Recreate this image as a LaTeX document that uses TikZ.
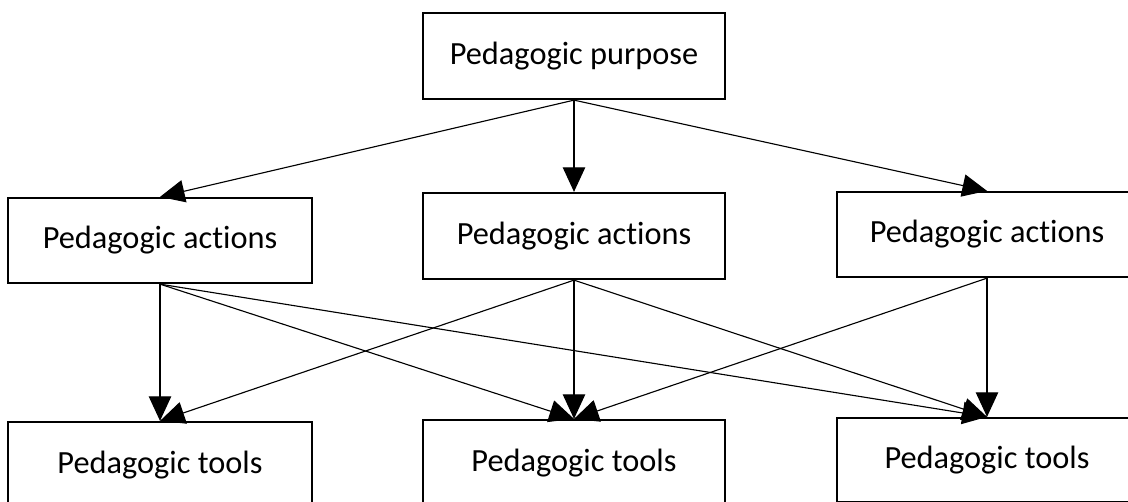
\documentclass[tikz,border=0pt]{standalone}
\usepackage{fontspec}
\setmainfont{Carlito}[Ligatures={NoCommon}]
\usetikzlibrary{arrows.meta,positioning,shapes}

\tikzset{
  block/.style={draw, line width=1.6pt, minimum width=302\pxu, minimum height=86\pxu,
    inner sep=0pt, font=\fontsize{23}{28}\selectfont},
  arr/.style={line width=0.8pt, -{Triangle[length=17.5pt, width=16pt]}}
}
\newlength{\pxu}
\setlength{\pxu}{0.025cm}

\begin{document}
\begin{tikzpicture}[x=0.025cm, y=-0.025cm]
  \useasboundingbox (0, 0) rectangle (1128, 501);
  \clip (0, 0) rectangle (1128, 501);

  \coordinate (top) at (574, 56);
  \coordinate (a1) at (160, 240.5);
  \coordinate (a2) at (574, 236);
  \coordinate (a3) at (987, 234.5);
  \coordinate (t1) at (160, 465.5);
  \coordinate (t2) at (574, 463.5);
  \coordinate (t3) at (987, 460);

  \node[block] (purpose) at (top) {Pedagogic purpose};
  \node[block, minimum width=304\pxu, minimum height=85\pxu] (act1) at (a1) {Pedagogic actions};
  \node[block] (act2) at (a2) {Pedagogic actions};
  \node[block, minimum width=300\pxu, minimum height=85\pxu] (act3) at (a3) {Pedagogic actions};
  \node[block, minimum width=304\pxu, minimum height=87\pxu] (tool1) at (t1) {Pedagogic tools};
  \node[block, minimum height=87\pxu] (tool2) at (t2) {Pedagogic tools};
  \node[block, minimum width=300\pxu, minimum height=84\pxu] (tool3) at (t3) {Pedagogic tools};

  \draw[arr] (purpose.south) -- (act1.north);
  \draw[arr] (purpose.south) -- (act2.north);
  \draw[arr] (purpose.south) -- (act3.north);

  \draw[arr] (act1.south) -- (tool1.north);
  \draw[arr] (act1.south) -- (tool2.north);
  \draw[arr] (act1.south) -- (tool3.north);
  \draw[arr] (act2.south) -- (tool1.north);
  \draw[arr] (act2.south) -- (tool2.north);
  \draw[arr] (act2.south) -- (tool3.north);
  \draw[arr] (act3.south) -- (tool2.north);
  \draw[arr] (act3.south) -- (tool3.north);
\end{tikzpicture}
\end{document}
